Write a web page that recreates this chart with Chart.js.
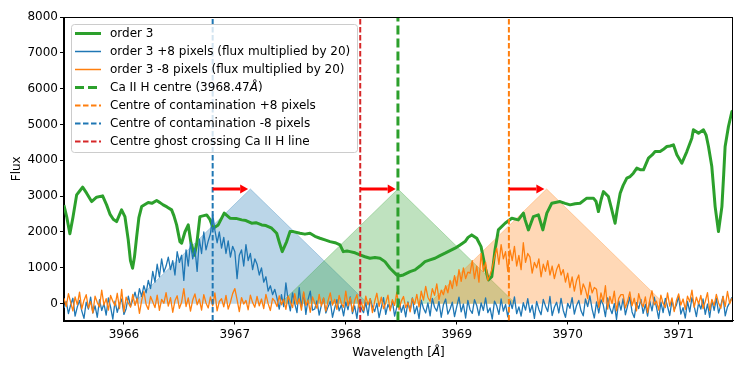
<!DOCTYPE html>
<html lang="en">

<head>
    <meta charset="UTF-8">
    <title>Order 3 around Ca II H</title>
    <script src="https://cdn.jsdelivr.net/npm/chart.js"></script>
    <style>
        body { margin: 0; background: #fff; }
        #wrap { width: 747px; height: 373px; }
    </style>
</head>

<body>
    <div id="wrap">
        <canvas id="myChart" width="747" height="373"></canvas>
    </div>

    <script>
        // ---- data ----
        // order 3 (green), wavelength in Angstrom / flux
        const greenWave = [3965.459, 3965.486, 3965.513, 3965.540, 3965.574, 3965.603, 3965.628, 3965.664, 3965.709, 3965.754,
            3965.808, 3965.844, 3965.874, 3965.904, 3965.934, 3965.979, 3966.009, 3966.039, 3966.059, 3966.078,
            3966.095, 3966.115, 3966.135, 3966.160, 3966.219, 3966.252, 3966.295, 3966.325, 3966.354, 3966.388,
            3966.430, 3966.451, 3966.475, 3966.505, 3966.520, 3966.550, 3966.580, 3966.604, 3966.636, 3966.658,
            3966.685, 3966.712, 3966.746, 3966.775, 3966.805, 3966.850, 3966.904, 3966.956, 3967.010, 3967.061,
            3967.100, 3967.151, 3967.190, 3967.242, 3967.280, 3967.332, 3967.377, 3967.402, 3967.427, 3967.467,
            3967.497, 3967.527, 3967.587, 3967.632, 3967.677, 3967.722, 3967.767, 3967.812, 3967.858, 3967.903,
            3967.948, 3967.977, 3968.011, 3968.038, 3968.083, 3968.128, 3968.173, 3968.218, 3968.263, 3968.308,
            3968.353, 3968.399, 3968.459, 3968.489, 3968.519, 3968.579, 3968.624, 3968.669, 3968.714, 3968.759,
            3968.804, 3968.849, 3968.895, 3968.940, 3968.985, 3969.030, 3969.075, 3969.102, 3969.135, 3969.180,
            3969.219, 3969.255, 3969.285, 3969.316, 3969.345, 3969.375, 3969.436, 3969.496, 3969.555, 3969.601,
            3969.616, 3969.646, 3969.691, 3969.736, 3969.776, 3969.812, 3969.857, 3969.931, 3969.977, 3970.022,
            3970.067, 3970.112, 3970.172, 3970.232, 3970.256, 3970.277, 3970.301, 3970.322, 3970.367, 3970.391,
            3970.427, 3970.445, 3970.473, 3970.500, 3970.533, 3970.563, 3970.592, 3970.623, 3970.653, 3970.683,
            3970.728, 3970.761, 3970.788, 3970.833, 3970.860, 3970.894, 3970.923, 3970.953, 3970.984, 3971.029,
            3971.074, 3971.119, 3971.133, 3971.179, 3971.224, 3971.248, 3971.269, 3971.299, 3971.316, 3971.329,
            3971.359, 3971.390, 3971.406, 3971.419, 3971.449, 3971.480, 3971.491];
        const greenFlux = [2750, 2400, 1950, 2400, 3036, 3150, 3250, 3083, 2849, 2971,
            3008, 2757, 2500, 2357, 2290, 2617, 2430, 1779, 1200, 989,
            1300, 1871, 2400, 2709, 2821, 2800, 2877, 2820, 2757, 2700,
            2617, 2450, 2198, 1732, 1687, 2000, 2198, 1700, 1350, 1700,
            2430, 2450, 2477, 2350, 2105, 2198, 2525, 2385, 2380, 2338,
            2320, 2245, 2260, 2198, 2180, 2105, 1966, 1700, 1452, 1732,
            2011, 2011, 1966, 1940, 1966, 1880, 1826, 1780, 1732, 1700,
            1640, 1452, 1470, 1452, 1420, 1360, 1310, 1268, 1290, 1268,
            1173, 989, 802, 780, 802, 894, 941, 1050, 1173, 1220,
            1268, 1340, 1408, 1480, 1547, 1640, 1732, 1850, 1919, 1826,
            1592, 1033, 662, 754, 1500, 2058, 2245, 2385, 2338, 2525,
            2338, 2058, 2430, 2477, 2058, 2525, 2804, 2849, 2800, 2757,
            2790, 2804, 2944, 2944, 2850, 2570, 2900, 3128, 2989, 2700,
            2245, 2600, 3083, 3300, 3502, 3547, 3642, 3782, 3740, 3734,
            4061, 4150, 4245, 4245, 4300, 4385, 4400, 4432, 4153, 3921,
            4245, 4619, 4851, 4759, 4851, 4700, 4385, 3826, 3200, 2709,
            2011, 2709, 3600, 4385, 4943, 5362, 5380];

        // the two shifted orders (x20) are sampled on a regular wavelength grid
        const noiseStart = 3965.46;
        const noiseStep = 0.02;
        const bluePlus8 = [
            -120, 60, -280, -30, 150, -350, -90, 90, -200, -410, 40, -150, 180, -260, -60, -380, 110, -190, 0, -320,
            160, -100, -430, 70, -240, -20, 130, -300, -140, 210, -70,
            100, 320, 50, 420, 200, 500, 300,
            650, 420, 900, 600, 1100, 750, 1250, 880, 1050, 1300, 950, 1200, 800, 1450, 1150,
            1350, 650, 1500, 1050, 1700, 1250, 1550, 900, 1800, 1400, 2000, 1500, 1750, 1950,
            2500, 2050,
            1700, 2000, 1550, 1850, 1400, 1750, 1300, 1600, 1450, 700, 1350, 1500,
            1050, 1650, 1200, 1400, 950, 1250, 1100, 800, 1000,
            600, 750, 350, 500, 250, 400,
            150, -150, 250, -80, 580, 100, -200, 300, 0,
            -250, 450, -100, 300, -300, 120, 350, -180,
            -150, 80, -320, -40, 150, -260, -90, 60, -380, -120, 110, -200, -30, -340, 40, -170, 190, -280, -60, -410,
            90, -140, -250, 30, -330, 140, -80, -220, 10, -390, -110, 170, -300, -20, -160, 70, -350, -90, 120, -240,
            -40, -370, 50, -190, 160, -280, -70, -420, 100, -130, -260, 20, -340, 150, -100, -210, 60, -380, -30, 130,
            -290, -150, 40, -360, -80, 180, -230, -10, -400, 90, -170, -270, 110, -50, -330, 20, -190, 160, -250, -120,
            -430, 70, -60, -300, 130, -210, -20, -370, 80, -140, 190, -280, -90, -350, 30, -180, 140, -240, -40, -410,
            60, -160, -310, 120, -70, -220, 200, -330, -100, 40, -260, 150, -190, -380, 10, -130, 170, -290, -50, 90,
            -200, -340, 130, -80, 220, -150, -400, 50, -260, 110, -30, -360, 160, -120, -280, 0, -440, 80, -180, 140,
            -310, -60, 190, -230, -390, 30, -140, 120, -270, -20, -350, 70, -200, 180, -100, -420, 40, -250, 150, -80,
            -330, 100, -170, -40, 210, -290, -110, -400, 60, -230, 170, -70, -360, 20, -150, 130, -300, -10, -380, 90,
            -190, 150, -260, -50, 200, -340, -90, 30, 180];
        const orangeMinus8 = [
            150, -80, 280, 40, -200, 190, -30, 320, -150, 90, 250, -120, 60, -260, 210, 30, -90, 380, -40, 140,
            -180, 230, 70, -60, 290, -140, 400, -230, 180, 20, -100, 260, -50, 150, -270, 90, 340, -20, -160, 200,
            50, -110, 240, -190, 120, 10, 310, -70, 170, -240, 80, 220, -130, 40, 420, -80, 160, -210, 100, 270,
            -30, 130, -180, 250, 20, -120, 190, -60, 300, -200, 60, 140, -90, 230, -150, 40, 280, 420, 110, -220,
            170, -10, 90, -170, 240, 30, -100, 200, -60, 130, -140, 260, 0, -190, 150, 70, -80, 220, -30, 120,
            -160, 210, 50, -110, 280, -20, 140, -180, 330, -50, 100, -240, 190, 20, -130, 260, -70, 160, -210, 80,
            300, -40, 120, -160, 230, 10, -100, 350, -60, 170, -220, 90, 250, -120, 40, -190, 210, -30, 140, -250,
            60, 290, -80, 180, -140, 20, 240, -200, 110, -50, 320, -170, 70, 200, -110, 30, -230, 150, -20, 260,
            -90,
            350, 100, 480, 180, 60, 420, 230, 550, 120, 380, 250, 500,
            300, 650, 420, 780, 500, 950, 620, 1000, 700, 880,
            850, 1200, 700, 1050, 600, 1400, 900, 1150, 650, 800, 1000, 1300,
            1550, 1100, 1650, 1250, 1450, 900, 1500, 1200, 1600, 1050, 1350, 950, 1700, 1150, 1400,
            1300, 850, 1150, 1000, 1250, 750, 1100, 900, 1200, 800, 1050, 700, 950, 1100, 800,
            950, 600, 850, 450, 750, 350, 650, 800, 250, 550, 400, 150, 600, 300, 450,
            400, -100, 300, 50, 500, -150, 200, 0, 350, -200, 150, 250,
            250, -120, 80, 330, -60, 150, -200, 280, 40, -90, 190, -250, 110, 360, -30, 70, -180, 240, 10, -110,
            300, -70, 160, -220, 90, 270, -40, 130, -160, 210, 50, 380, -100, 180, -10, 230, -140, 60, 310, -190,
            120, -50, 260, 20, -130, 200, -80, 340, 0, 150];

        // vertical markers
        const caIIHCentre = 3968.47;
        const contamPlus8 = 3969.47;
        const contamMinus8 = 3966.80;
        const ghostCentre = 3968.13;

        // shaded triangles (blue, green, orange) and the red arrows
        const trianglePeaks = [3967.14, 3968.47, 3969.81];
        const triangleHalfWidth = 1.06;
        const triangleHeight = 3200;
        const arrowFrom = [3966.80, 3968.13, 3969.47];
        const arrowTo = [3967.12, 3968.45, 3969.79];
        const arrowLevel = 3200;

        // axes
        const xMin = 3965.46, xMax = 3971.49;
        const yMin = -470, yMax = 8000;
        const xTicks = [3966, 3967, 3968, 3969, 3970, 3971];
        const yTicks = [0, 1000, 2000, 3000, 4000, 5000, 6000, 7000, 8000];

        const legendLabels = [
            'order 3',
            'order 3 +8 pixels (flux multiplied by 20)',
            'order 3 -8 pixels (flux multiplied by 20)',
            'Ca II H centre (3968.47Å)',
            'Centre of contamination +8 pixels',
            'Centre of contamination -8 pixels',
            'Centre ghost crossing Ca II H line'
        ];

        // ---- build datasets ----
        const GREEN = '#2ca02c', BLUE = '#1f77b4', ORANGE = '#ff7f0e', RED = '#d62728';
        const FONT = '"DejaVu Sans", sans-serif';

        function triangle(peak) {
            return [{ x: peak - triangleHalfWidth, y: 0 }, { x: peak, y: triangleHeight }, { x: peak + triangleHalfWidth, y: 0 }];
        }
        function vline(x) {
            return [{ x: x, y: yMin }, { x: x, y: yMax }];
        }
        const base = { pointRadius: 0, tension: 0, fill: false, borderJoinStyle: 'round' };

        const datasets = [
            Object.assign({}, base, { data: triangle(trianglePeaks[0]), fill: 'origin', backgroundColor: 'rgba(31,119,180,0.3)', borderColor: 'rgba(31,119,180,0.3)', borderWidth: 1, order: 12 }),
            Object.assign({}, base, { data: triangle(trianglePeaks[1]), fill: 'origin', backgroundColor: 'rgba(44,160,44,0.3)', borderColor: 'rgba(44,160,44,0.3)', borderWidth: 1, order: 11 }),
            Object.assign({}, base, { data: triangle(trianglePeaks[2]), fill: 'origin', backgroundColor: 'rgba(255,127,14,0.3)', borderColor: 'rgba(255,127,14,0.3)', borderWidth: 1, order: 10 }),
            Object.assign({}, base, { data: greenWave.map((w, i) => ({ x: w, y: greenFlux[i] })), borderColor: GREEN, borderWidth: 3, order: 7 }),
            Object.assign({}, base, { data: bluePlus8.map((v, i) => ({ x: noiseStart + i * noiseStep, y: v })), borderColor: BLUE, borderWidth: 1.3, order: 6 }),
            Object.assign({}, base, { data: orangeMinus8.map((v, i) => ({ x: noiseStart + i * noiseStep, y: v })), borderColor: ORANGE, borderWidth: 1.3, order: 5 }),
            Object.assign({}, base, { data: vline(caIIHCentre), borderColor: GREEN, borderWidth: 3, borderDash: [9, 4], order: 4 }),
            Object.assign({}, base, { data: vline(contamPlus8), borderColor: ORANGE, borderWidth: 2, borderDash: [5.5, 2.5], order: 3 }),
            Object.assign({}, base, { data: vline(contamMinus8), borderColor: BLUE, borderWidth: 2, borderDash: [5.5, 2.5], order: 2 }),
            Object.assign({}, base, { data: vline(ghostCentre), borderColor: RED, borderWidth: 2, borderDash: [5.5, 2.5], order: 1 })
        ];

        // legend samples: [colour, width, dash]
        const legendStyles = [
            [GREEN, 3, []], [BLUE, 1.5, []], [ORANGE, 1.5, []],
            [GREEN, 3, [9, 4]], [ORANGE, 2, [5.5, 2.5]], [BLUE, 2, [5.5, 2.5]], [RED, 2, [5.5, 2.5]]
        ];

        // text with the Angstrom sign in italics (like matplotlib mathtext)
        function richWidth(ctx, str) {
            let w = 0;
            str.split(/(Å)/).forEach(part => {
                if (!part) return;
                ctx.font = (part === 'Å' ? 'italic ' : '') + '12px ' + FONT;
                w += ctx.measureText(part).width;
            });
            return w;
        }
        function drawRich(ctx, str, x, y) {
            str.split(/(Å)/).forEach(part => {
                if (!part) return;
                ctx.font = (part === 'Å' ? 'italic ' : '') + '12px ' + FONT;
                ctx.fillText(part, x, y);
                x += ctx.measureText(part).width;
            });
        }

        const extras = {
            id: 'extras',
            afterDatasetsDraw(chart) {
                const ctx = chart.ctx, xs = chart.scales.x, ys = chart.scales.y;
                // red arrows
                ctx.save();
                ctx.fillStyle = '#ff0000';
                arrowFrom.forEach((x0, i) => {
                    const px0 = xs.getPixelForValue(x0), px1 = xs.getPixelForValue(arrowTo[i]);
                    const py = ys.getPixelForValue(arrowLevel);
                    const head = 8;
                    ctx.fillRect(px0, py - 1.5, px1 - px0 - head, 3);
                    ctx.beginPath();
                    ctx.moveTo(px1 - head, py - 4.5);
                    ctx.lineTo(px1, py);
                    ctx.lineTo(px1 - head, py + 4.5);
                    ctx.closePath();
                    ctx.fill();
                });
                ctx.restore();
            },
            afterDraw(chart) {
                const ctx = chart.ctx, a = chart.chartArea;
                ctx.save();
                // frame
                ctx.strokeStyle = '#000';
                ctx.lineWidth = 1;
                ctx.strokeRect(Math.round(a.left) - 0.5, Math.round(a.top) + 0.5, Math.round(a.right - a.left), Math.round(a.bottom - a.top));

                // axis titles
                ctx.fillStyle = '#000';
                ctx.textBaseline = 'middle';
                const xl = 'Wavelength [Å]';
                drawRich(ctx, xl, (a.left + a.right) / 2 - richWidth(ctx, xl) / 2, 353);
                ctx.save();
                ctx.translate(17, (a.top + a.bottom) / 2);
                ctx.rotate(-Math.PI / 2);
                ctx.font = '12px ' + FONT;
                ctx.textAlign = 'center';
                ctx.fillText('Flux', 0, 0);
                ctx.restore();

                // legend box
                const lx = 71, ly = 24, lw = 286, lh = 128, r = 3;
                ctx.beginPath();
                ctx.roundRect(lx + 0.5, ly + 0.5, lw, lh, r);
                ctx.fillStyle = 'rgba(255,255,255,0.8)';
                ctx.fill();
                ctx.strokeStyle = '#cccccc';
                ctx.stroke();
                legendLabels.forEach((label, i) => {
                    const y = 33.5 + i * 18;
                    const st = legendStyles[i];
                    ctx.beginPath();
                    ctx.strokeStyle = st[0];
                    ctx.lineWidth = st[1];
                    ctx.setLineDash(st[2]);
                    ctx.moveTo(75, y);
                    ctx.lineTo(101, y);
                    ctx.stroke();
                    ctx.setLineDash([]);
                    ctx.fillStyle = '#000';
                    drawRich(ctx, label, 110, y);
                });
                ctx.restore();
            }
        };

        const config = {
            type: 'line',
            data: { datasets: datasets },
            options: {
                responsive: false,
                devicePixelRatio: 1,
                animation: false,
                events: [],
                layout: { padding: { top: 17, right: 14, left: 0, bottom: 0 } },
                plugins: { legend: { display: false }, tooltip: { enabled: false } },
                scales: {
                    x: {
                        type: 'linear',
                        min: xMin,
                        max: xMax,
                        afterBuildTicks: s => { s.ticks = xTicks.map(v => ({ value: v })); },
                        afterFit: s => { s.height = 52.5; },
                        grid: { drawOnChartArea: false, tickLength: 4, color: '#000' },
                        border: { display: true, color: '#000' },
                        ticks: { color: '#000', font: { family: FONT, size: 12 }, padding: 3, maxRotation: 0, callback: v => String(v) }
                    },
                    y: {
                        type: 'linear',
                        min: yMin,
                        max: yMax,
                        afterBuildTicks: s => { s.ticks = yTicks.map(v => ({ value: v })); },
                        afterFit: s => { s.width = 64; },
                        grid: { drawOnChartArea: false, tickLength: 4, color: '#000' },
                        border: { display: true, color: '#000' },
                        ticks: { color: '#000', font: { family: FONT, size: 12 }, padding: 2, callback: v => String(v) }
                    }
                }
            },
            plugins: [extras]
        };

        const myChart = new Chart(document.getElementById('myChart'), config);
    </script>
</body>

</html>
